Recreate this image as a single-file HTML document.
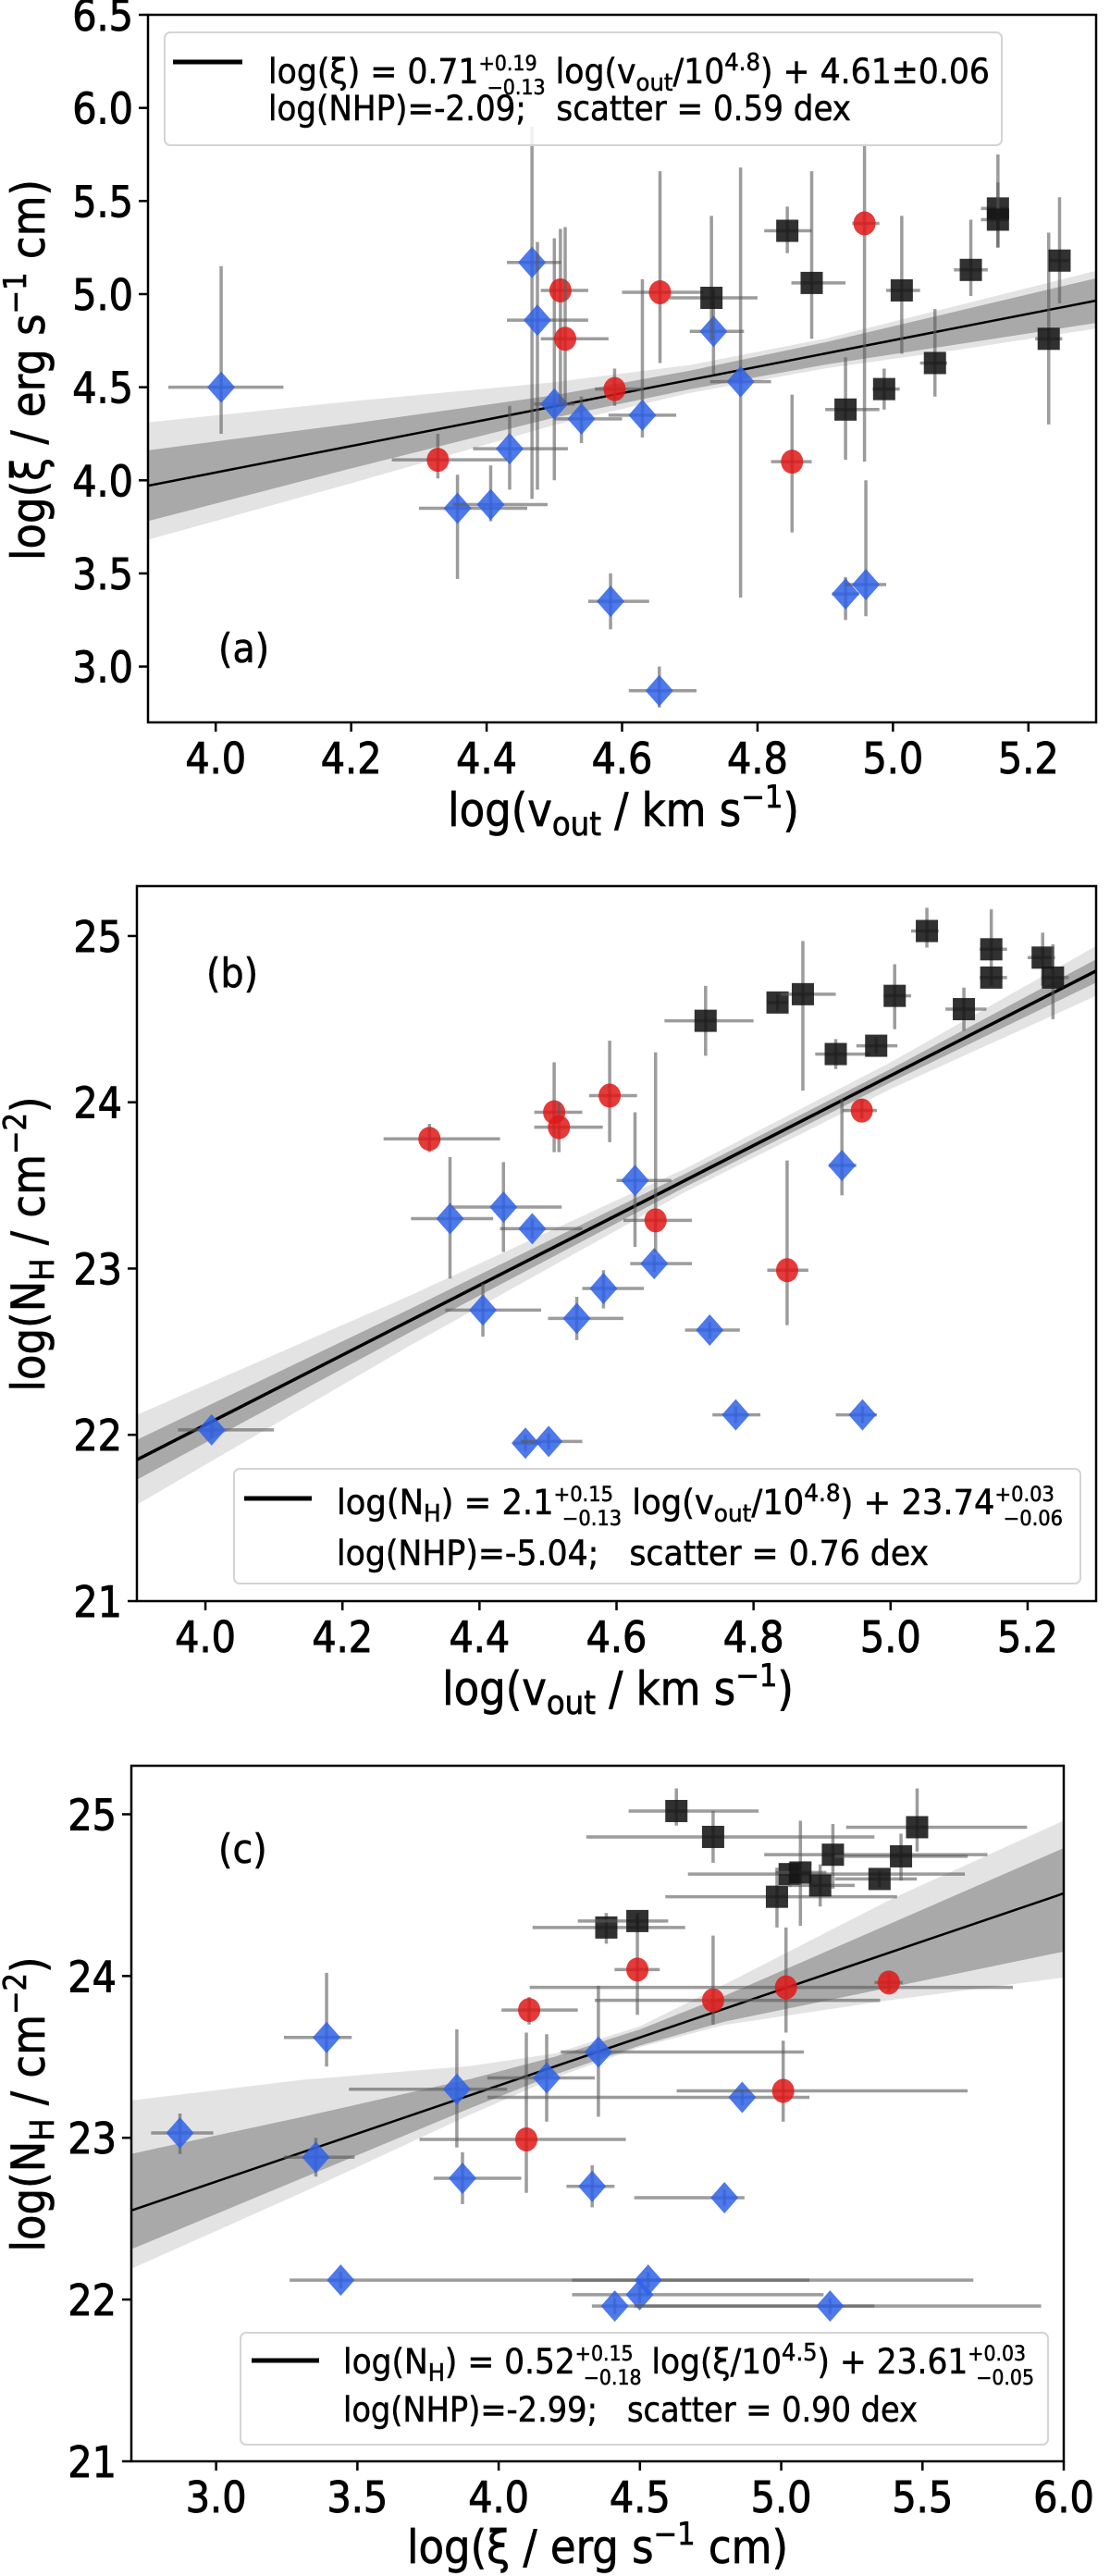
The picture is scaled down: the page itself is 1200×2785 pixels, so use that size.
<!DOCTYPE html>
<html><head><meta charset="utf-8"><title>Outflow correlations</title>
<style>
html,body{margin:0;padding:0;background:#fff;}
svg{display:block;font-family:"DejaVu Sans Condensed","DejaVu Sans","Liberation Sans",sans-serif;}
</style></head>
<body>
<svg id="fig" width="1200" height="2785" viewBox="0 0 1200 2785" xmlns="http://www.w3.org/2000/svg"></svg>
<script>
// ---------- Panel (a): log(xi) vs log(vout) ----------  [x, y, xlo, xhi, ylo, yhi]
const aBlue = [
 [4.008,4.50,3.93,4.10,4.25,5.15],[4.467,5.17,4.43,4.51,3.90,5.90],[4.475,4.86,4.43,4.55,3.95,5.28],
 [4.50,4.41,4.47,4.53,4.00,5.30],[4.54,4.33,4.50,4.60,4.20,4.45],[4.63,4.35,4.58,4.68,4.23,5.08],
 [4.434,4.17,4.38,4.52,3.95,4.40],[4.357,3.85,4.30,4.46,3.47,4.03],[4.406,3.87,4.35,4.49,3.78,4.08],
 [4.735,4.80,4.70,4.78,4.57,5.03],[4.775,4.53,4.73,4.82,3.37,5.68],[4.583,3.35,4.55,4.64,3.20,3.50],
 [4.655,2.87,4.61,4.71,2.78,3.00],[4.93,3.39,4.91,4.95,3.25,3.48],[4.96,3.44,4.93,4.99,3.27,4.00]
];
const aRed = [
 [4.328,4.11,4.26,4.43,4.01,4.25],[4.509,5.02,4.48,4.55,4.40,5.35],[4.516,4.76,4.48,4.58,4.40,5.36],
 [4.589,4.49,4.56,4.63,4.40,4.60],[4.656,5.01,4.60,4.72,4.63,5.66],[4.851,4.10,4.82,4.88,3.72,4.46],
 [4.958,5.38,4.94,4.98,4.10,5.81]
];
const aBlack = [
 [4.844,5.34,4.81,4.88,5.22,5.47],[4.88,5.06,4.85,4.93,4.76,5.66],[4.732,4.98,4.67,4.80,4.75,5.42],
 [4.93,4.38,4.90,4.98,4.11,4.66],[4.987,4.49,4.97,5.01,4.38,4.60],[5.013,5.02,4.99,5.04,4.68,5.42],
 [5.062,4.63,5.04,5.08,4.45,4.92],[5.115,5.13,5.09,5.14,4.99,5.40],[5.155,5.46,5.13,5.17,5.25,5.75],
 [5.155,5.40,5.13,5.17,5.25,5.60],[5.23,4.76,5.21,5.25,4.30,5.33],[5.246,5.18,5.23,5.26,4.95,5.52]
];
const aFitSlope = 0.71, aFitPivot = 4.8, aFitIcpt = 4.61;
const aBandX = [3.9,4.2,4.5,4.7,4.9,5.1,5.3];
const aDark = [0.19,0.12,0.06,0.05,0.06,0.09,0.12];
const aLightHi = [0.34,0.24,0.13,0.08,0.08,0.12,0.16];
const aLightLo = [0.29,0.20,0.10,0.07,0.08,0.12,0.15];
const aXTicks = ["4.0","4.2","4.4","4.6","4.8","5.0","5.2"];
const aYTicks = ["3.0","3.5","4.0","4.5","5.0","5.5","6.0","6.5"];

// ---------- Panel (b): log(NH) vs log(vout) ----------
const bBlue = [
 [4.009,22.03,3.96,4.10,21.98,22.08],[4.357,23.30,4.30,4.42,22.94,23.67],[4.435,23.37,4.36,4.52,23.10,23.64],
 [4.477,23.24,4.43,4.55,23.18,23.30],[4.405,22.75,4.35,4.49,22.59,22.91],[4.627,23.53,4.60,4.68,23.13,23.94],
 [4.655,23.03,4.62,4.71,22.98,23.08],[4.581,22.88,4.55,4.64,22.76,22.99],[4.542,22.70,4.50,4.61,22.57,22.83],
 [4.736,22.63,4.70,4.78,22.58,22.68],[4.774,22.12,4.74,4.81,22.07,22.17],[4.959,22.12,4.92,4.98,22.07,22.17],
 [4.467,21.95,4.45,4.49,21.90,22.00],[4.501,21.96,4.46,4.55,21.91,22.01],[4.929,23.62,4.91,4.95,23.44,24.02]
];
const bRed = [
 [4.327,23.78,4.26,4.43,23.70,23.87],[4.509,23.94,4.48,4.55,23.70,24.24],[4.516,23.85,4.48,4.58,23.70,24.00],
 [4.590,24.04,4.56,4.63,23.76,24.37],[4.657,23.29,4.61,4.71,23.10,24.30],[4.849,22.99,4.82,4.88,22.66,23.65],
 [4.958,23.95,4.93,4.98,23.90,24.02]
];
const bBlack = [
 [4.730,24.49,4.67,4.80,24.28,24.70],[4.835,24.60,4.82,4.85,24.55,24.65],[4.872,24.65,4.84,4.92,24.07,24.97],
 [4.920,24.29,4.89,4.97,24.20,24.38],[4.979,24.34,4.95,5.01,24.29,24.39],[5.006,24.64,4.99,5.03,24.44,24.83],
 [5.053,25.03,5.03,5.07,24.93,25.17],[5.107,24.56,5.08,5.14,24.43,24.69],[5.147,24.92,5.13,5.17,24.80,25.16],
 [5.147,24.75,5.13,5.17,24.70,24.80],[5.222,24.87,5.20,5.24,24.70,25.02],[5.237,24.75,5.22,5.26,24.50,24.95]
];
const bFitSlope = 2.1, bFitPivot = 4.8, bFitIcpt = 23.74;
const bBandX = [3.9,4.3,4.7,5.0,5.3];
const bDark = [0.12,0.07,0.04,0.04,0.07];
const bLightHi = [0.27,0.15,0.07,0.08,0.15];
const bLightLo = [0.27,0.15,0.07,0.08,0.15];
const bXTicks = ["4.0","4.2","4.4","4.6","4.8","5.0","5.2"];
const bYTicks = ["21","22","23","24","25"];

// ---------- Panel (c): log(NH) vs log(xi) ----------
const cBlue = [
 [2.872,23.03,2.77,2.99,22.90,23.15],[3.353,22.88,3.24,3.49,22.76,23.00],[3.391,23.62,3.24,3.48,23.44,24.02],
 [3.852,23.30,3.47,4.03,22.94,23.67],[3.872,22.75,3.77,4.08,22.59,22.91],[4.170,23.37,3.96,4.34,23.10,23.64],
 [4.353,23.53,4.22,5.08,23.13,23.94],[4.331,22.70,4.24,4.41,22.57,22.83],[4.862,23.25,3.96,5.10,23.20,23.30],
 [4.799,22.63,4.48,4.87,22.58,22.68],[3.441,22.12,3.26,5.68,22.07,22.17],[4.529,22.12,4.26,5.10,22.07,22.17],
 [4.499,22.03,4.26,5.15,21.98,22.08],[4.411,21.96,4.33,5.33,21.91,22.01],[5.173,21.96,4.48,5.92,21.91,22.01]
];
const cRed = [
 [4.108,23.79,4.01,4.28,23.70,23.87],[4.098,22.99,3.72,4.45,22.66,23.65],[4.491,24.04,4.41,4.57,23.76,24.37],
 [4.759,23.85,4.34,5.35,23.70,24.25],[5.017,23.93,4.11,5.82,23.65,24.30],[5.007,23.29,4.63,5.66,23.10,23.60],
 [5.381,23.96,5.33,5.43,23.90,24.02]
];
const cBlack = [
 [4.629,25.02,4.46,4.92,24.93,25.16],[4.759,24.86,4.31,5.33,24.70,25.02],[4.381,24.30,4.12,4.66,24.20,24.39],
 [4.491,24.34,4.28,4.60,24.29,24.39],[4.985,24.49,4.59,5.41,24.30,24.67],[5.030,24.63,4.67,5.65,24.55,24.70],
 [5.068,24.64,4.98,5.16,24.31,24.96],[5.138,24.56,5.03,5.26,24.43,24.69],[5.183,24.75,4.94,5.73,24.54,24.94],
 [5.348,24.60,5.19,5.48,24.55,24.65],[5.424,24.74,5.19,5.66,24.59,24.88],[5.481,24.92,5.23,5.87,24.77,25.16]
];
const cFitSlope = 0.594, cFitPivot = 4.5, cFitIcpt = 23.62;
const cBandX = [2.7,3.3,3.9,4.2,4.5,4.8,5.4,6.0];
const cDarkHi = [0.35,0.22,0.10,0.06,0.05,0.08,0.18,0.28];
const cDarkLo = [0.24,0.16,0.08,0.05,0.05,0.08,0.22,0.36];
const cLightHi = [0.68,0.45,0.18,0.08,0.07,0.15,0.33,0.45];
const cLightLo = [0.36,0.25,0.12,0.07,0.06,0.10,0.30,0.52];
const cXTicks = ["3.0","3.5","4.0","4.5","5.0","5.5","6.0"];
const cYTicks = ["21","22","23","24","25"];

const NS = "http://www.w3.org/2000/svg";
const svg = document.getElementById('fig');
function mk(tag, attrs, parent){
  const e = document.createElementNS(NS, tag);
  for (const k in attrs) e.setAttribute(k, attrs[k]);
  (parent||svg).appendChild(e);
  return e;
}

function panel(P){
  const g = mk('g', {});
  
  
  const sx = v => P.x0 + (v - P.xmin) / (P.xmax - P.xmin) * (P.x1 - P.x0);
  const sy = v => P.y1 - (v - P.ymin) / (P.ymax - P.ymin) * (P.y1 - P.y0);
  const clipId = 'clip-' + P.name;
  const cp = mk('clipPath', {id: clipId}, g);
  mk('rect', {x:P.x0, y:P.y0, width:P.x1-P.x0, height:P.y1-P.y0}, cp);
  const plot = mk('g', {'clip-path':'url(#'+clipId+')'}, g);
  const fit = x => P.icpt + P.slope * (x - P.pivot);
  function band(hi, lo, fill, nm){
    let d = '';
    P.bandX.forEach((x,i)=>{ d += (i?'L':'M') + sx(x) + ' ' + sy(fit(x)+hi[i]) + ' '; });
    for (let i=P.bandX.length-1;i>=0;i--){ const x=P.bandX[i]; d += 'L' + sx(x) + ' ' + sy(fit(x)-lo[i]) + ' '; }
    const p = mk('path', {d: d+'Z', fill: fill, stroke:'none'}, plot);
    
    
  }
  band(P.lightHi, P.lightLo, '#e3e3e3', 'confidence-band-outer');
  band(P.darkHi, P.darkLo, '#a9a9a9', 'confidence-band-inner');
  const fl = mk('line', {x1:sx(P.xmin), y1:sy(fit(P.xmin)), x2:sx(P.xmax), y2:sy(fit(P.xmax)), stroke:'#000', 'stroke-width':P.fitW}, plot);
  
  

  function series(arr, kind, color, nm){
    arr.forEach(p=>{
      const cx = sx(p[0]), cy = sy(p[1]);
      const eg = mk('g', {}, plot);
      
      
      mk('line', {x1:sx(p[2]), y1:cy, x2:sx(p[3]), y2:cy, stroke:'rgba(90,90,90,0.6)', 'stroke-width':3.5}, eg);
      mk('line', {x1:cx, y1:sy(p[4]), x2:cx, y2:sy(p[5]), stroke:'rgba(90,90,90,0.6)', 'stroke-width':3.5}, eg);
      if (kind==='d') mk('path', {d:`M${cx} ${cy-17}L${cx+15} ${cy}L${cx} ${cy+17}L${cx-15} ${cy}Z`, fill:color, 'fill-opacity':0.85}, eg);
      else if (kind==='o') mk('ellipse', {cx:cx, cy:cy, rx:12, ry:13, fill:color, 'fill-opacity':0.85}, eg);
      else mk('rect', {x:cx-12, y:cy-12, width:24, height:24, fill:color, 'fill-opacity':0.88}, eg);
    });
  }
  series(P.blue, 'd', '#2f62e6', 'blue-diamond');
  series(P.red, 'o', '#e01818', 'red-circle');
  series(P.black, 's', '#141414', 'black-square');

  const fr = mk('rect', {x:P.x0, y:P.y0, width:P.x1-P.x0, height:P.y1-P.y0, fill:'none', stroke:'#000', 'stroke-width':2.5}, g);
  
  

  P.xt.forEach(t=>{
    const x = sx(parseFloat(t));
    mk('line', {x1:x, y1:P.y1, x2:x, y2:P.y1+10, stroke:'#000', 'stroke-width':2.5}, g);
    const tx = mk('text', {x:x, y:P.y1+55, 'font-size':46, 'text-anchor':'middle', stroke:'#000', 'stroke-width':0.9}, g);
    tx.textContent = t;
    
    
  });
  P.yt.forEach(t=>{
    const y = sy(parseFloat(t));
    mk('line', {x1:P.x0-10, y1:y, x2:P.x0, y2:y, stroke:'#000', 'stroke-width':2.5}, g);
    const ty = mk('text', {x:P.x0-16, y:y+17, 'font-size':46, 'text-anchor':'end', stroke:'#000', 'stroke-width':0.9}, g);
    ty.textContent = t;
    
    
  });
  return g;
}

panel({name:'panel-a', x0:160, x1:1185, y0:16, y1:781, xmin:3.9, xmax:5.3, ymin:2.70, ymax:6.5,
  slope:aFitSlope, pivot:aFitPivot, icpt:aFitIcpt, fitW:2.5, bandX:aBandX, darkHi:aDark, darkLo:aDark, lightHi:aLightHi, lightLo:aLightLo,
  blue:aBlue, red:aRed, black:aBlack, xt:aXTicks, yt:aYTicks});
panel({name:'panel-b', x0:148, x1:1185, y0:958, y1:1731, xmin:3.9, xmax:5.3, ymin:21, ymax:25.3,
  slope:bFitSlope, pivot:bFitPivot, icpt:bFitIcpt, fitW:3.5, bandX:bBandX, darkHi:bDark, darkLo:bDark, lightHi:bLightHi, lightLo:bLightLo,
  blue:bBlue, red:bRed, black:bBlack, xt:bXTicks, yt:bYTicks});
panel({name:'panel-c', x0:142, x1:1150, y0:1909, y1:2661, xmin:2.7, xmax:6.0, ymin:21, ymax:25.3,
  slope:cFitSlope, pivot:cFitPivot, icpt:cFitIcpt, fitW:2.5, bandX:cBandX, darkHi:cDarkHi, darkLo:cDarkLo, lightHi:cLightHi, lightLo:cLightLo,
  blue:cBlue, red:cRed, black:cBlack, xt:cXTicks, yt:cYTicks});
</script>

<svg style="position:absolute;left:0;top:0" width="1200" height="2785" viewBox="0 0 1200 2785" xmlns="http://www.w3.org/2000/svg" font-family="DejaVu Sans Condensed, DejaVu Sans, Liberation Sans, sans-serif">
  <!-- Panel a texts -->
  <g>
    <rect x="178" y="35" width="905" height="122" rx="6" fill="#fff" fill-opacity="0.85" stroke="#d4d4d4" stroke-width="2"/>
    <line x1="187" y1="67" x2="262" y2="67" stroke="#000" stroke-width="5"/>
    <text x="290" y="90" font-size="37" stroke="#000" stroke-width="0.5" textLength="780" lengthAdjust="spacingAndGlyphs">log(ξ) = 0.71<tspan font-size="22" dy="-14">+0.19</tspan><tspan font-size="22" dx="-52" dy="26">−0.13</tspan><tspan dy="-12"> log(v</tspan><tspan font-size="26" dy="8">out</tspan><tspan dy="-8">/10</tspan><tspan font-size="26" dy="-14">4.8</tspan><tspan dy="14">) + 4.61±0.06</tspan></text>
    <text x="290" y="130" font-size="37" stroke="#000" stroke-width="0.5" textLength="630" lengthAdjust="spacingAndGlyphs" xml:space="preserve">log(NHP)=-2.09;   scatter = 0.59 dex</text>
  </g>
  <text x="236" y="716" font-size="44" stroke="#000" stroke-width="0.6">(a)</text>
  <text x="674" y="893" font-size="50" stroke="#000" stroke-width="0.7" text-anchor="middle">log(v<tspan font-size="36" dy="10">out</tspan><tspan dy="-10"> / km s</tspan><tspan font-size="34" dy="-20">−1</tspan><tspan dy="20">)</tspan></text>
  <text transform="translate(48,400) rotate(-90)" font-size="50" stroke="#000" stroke-width="0.7" text-anchor="middle">log(ξ / erg s<tspan font-size="34" dy="-20">−1</tspan><tspan dy="20"> cm)</tspan></text>

  <!-- Panel b texts -->
  <g>
    <rect x="253" y="1588" width="915" height="124" rx="6" fill="#fff" fill-opacity="0.85" stroke="#d4d4d4" stroke-width="2"/>
    <line x1="264" y1="1620" x2="337" y2="1620" stroke="#000" stroke-width="5"/>
    <text x="364" y="1637" font-size="37" stroke="#000" stroke-width="0.5" textLength="785" lengthAdjust="spacingAndGlyphs">log(N<tspan font-size="26" dy="8">H</tspan><tspan dy="-8">) = 2.1</tspan><tspan font-size="22" dy="-14">+0.15</tspan><tspan font-size="22" dx="-52" dy="26">−0.13</tspan><tspan dy="-12"> log(v</tspan><tspan font-size="26" dy="8">out</tspan><tspan dy="-8">/10</tspan><tspan font-size="26" dy="-14">4.8</tspan><tspan dy="14">) + 23.74</tspan><tspan font-size="22" dy="-14">+0.03</tspan><tspan font-size="22" dx="-52" dy="26">−0.06</tspan></text>
    <text x="364" y="1692" font-size="37" stroke="#000" stroke-width="0.5" textLength="640" lengthAdjust="spacingAndGlyphs" xml:space="preserve">log(NHP)=-5.04;   scatter = 0.76 dex</text>
  </g>
  <text x="223" y="1067" font-size="44" stroke="#000" stroke-width="0.6">(b)</text>
  <text x="668" y="1843" font-size="50" stroke="#000" stroke-width="0.7" text-anchor="middle">log(v<tspan font-size="36" dy="10">out</tspan><tspan dy="-10"> / km s</tspan><tspan font-size="34" dy="-20">−1</tspan><tspan dy="20">)</tspan></text>
  <text transform="translate(48,1345) rotate(-90)" font-size="50" stroke="#000" stroke-width="0.7" text-anchor="middle">log(N<tspan font-size="36" dy="10">H</tspan><tspan dy="-10"> / cm</tspan><tspan font-size="34" dy="-20">−2</tspan><tspan dy="20">)</tspan></text>

  <!-- Panel c texts -->
  <g>
    <rect x="260" y="2522" width="873" height="121" rx="6" fill="#fff" fill-opacity="0.85" stroke="#d4d4d4" stroke-width="2"/>
    <line x1="272" y1="2552" x2="345" y2="2552" stroke="#000" stroke-width="5"/>
    <text x="371" y="2566" font-size="37" stroke="#000" stroke-width="0.5" textLength="747" lengthAdjust="spacingAndGlyphs">log(N<tspan font-size="26" dy="8">H</tspan><tspan dy="-8">) = 0.52</tspan><tspan font-size="22" dy="-14">+0.15</tspan><tspan font-size="22" dx="-52" dy="26">−0.18</tspan><tspan dy="-12"> log(ξ/10</tspan><tspan font-size="26" dy="-14">4.5</tspan><tspan dy="14">) + 23.61</tspan><tspan font-size="22" dy="-14">+0.03</tspan><tspan font-size="22" dx="-52" dy="26">−0.05</tspan></text>
    <text x="371" y="2618" font-size="37" stroke="#000" stroke-width="0.5" textLength="621" lengthAdjust="spacingAndGlyphs" xml:space="preserve">log(NHP)=-2.99;   scatter = 0.90 dex</text>
  </g>
  <text x="236" y="2014" font-size="44" stroke="#000" stroke-width="0.6">(c)</text>
  <text x="646" y="2771" font-size="50" stroke="#000" stroke-width="0.7" text-anchor="middle">log(ξ / erg s<tspan font-size="34" dy="-20">−1</tspan><tspan dy="20"> cm)</tspan></text>
  <text transform="translate(48,2275) rotate(-90)" font-size="50" stroke="#000" stroke-width="0.7" text-anchor="middle">log(N<tspan font-size="36" dy="10">H</tspan><tspan dy="-10"> / cm</tspan><tspan font-size="34" dy="-20">−2</tspan><tspan dy="20">)</tspan></text>
</svg>
</body></html>
